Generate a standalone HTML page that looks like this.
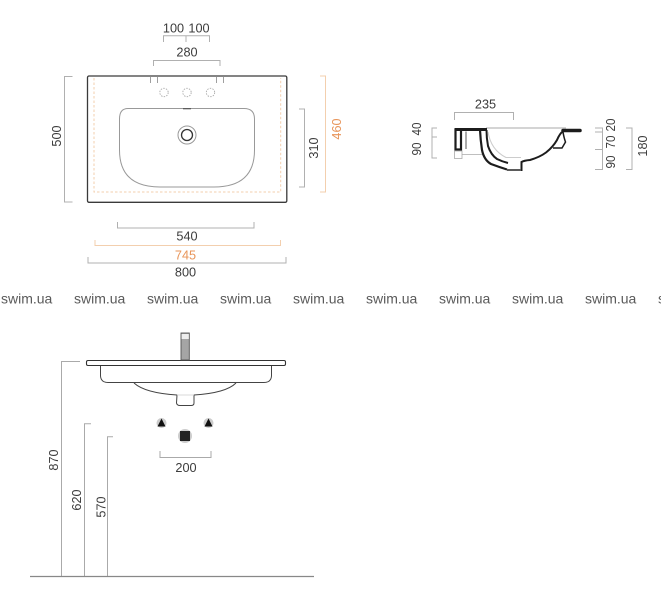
<!DOCTYPE html>
<html>
<head>
<meta charset="utf-8">
<style>
html,body{margin:0;padding:0;background:#fff;width:661px;height:600px;overflow:hidden}
svg{display:block;filter:blur(.35px)}
text{font-family:"Liberation Sans",sans-serif;font-size:12.700px;fill:#3c3c3c}
.o{fill:#e8955a}
.w{font-size:14px;fill:#5a5a5a}
</style>
</head>
<body>
<svg width="661" height="600" viewBox="0 0 661 600" xmlns="http://www.w3.org/2000/svg">
<!-- top view -->
<g fill="none">
<rect x="87.500" y="76" width="199.300" height="126.300" rx="1.500" stroke="#3a3a3a" stroke-width="1.300"/>
<path d="M94 78V192H280.700V78" stroke="#f3cfae" stroke-width="1" stroke-dasharray="2.500 2"/>
<path d="M128 108.500H244Q254.500 108.500 254.500 119V150Q254.500 187 214 187H160Q119.500 187 119.500 150V119Q119.500 108.500 128 108.500Z" stroke="#999" stroke-width="1"/>
<circle cx="187" cy="135" r="9" stroke="#999" stroke-width="1"/>
<circle cx="187" cy="135" r="5.500" stroke="#333" stroke-width="1.300"/>
<circle cx="164" cy="92.500" r="4.200" stroke="#aaa" stroke-width=".9" stroke-dasharray="1.500 1.200"/>
<circle cx="187" cy="92.500" r="4.200" stroke="#aaa" stroke-width=".9" stroke-dasharray="1.500 1.200"/>
<circle cx="210.500" cy="92.500" r="4.200" stroke="#aaa" stroke-width=".9" stroke-dasharray="1.500 1.200"/>
<path d="M150.500 76V83M157.500 76V83M216.500 76V83M223.500 76V83" stroke="#888" stroke-width=".8"/>
<path d="M183 108.700H191" stroke="#555" stroke-width="1.200"/>
<!-- dims -->
<g stroke="#b0b0b0" stroke-width="1">
<path d="M163.500 42V35.700H209.500V42M186 35.700V42"/>
<path d="M153.500 66V60.500H220V66"/>
<path d="M72.500 76.500H64.500V202H72.500"/>
<path d="M299 109H304.500V187H299"/>
<path d="M117.500 222V228H254V222"/>
<path d="M88 257V263H286V257"/>
</g>
<g stroke="#f3cfae" stroke-width="1">
<path d="M320 76H325.500V192H320"/>
<path d="M95 240V245.500H280.500V240"/>
</g>
</g>
<text x="173.500" y="32.500" text-anchor="middle">100</text>
<text x="199" y="32.500" text-anchor="middle">100</text>
<text x="187" y="56.500" text-anchor="middle">280</text>
<text transform="translate(61,136) rotate(-90)" text-anchor="middle">500</text>
<text transform="translate(318,148) rotate(-90)" text-anchor="middle">310</text>
<text class="o" transform="translate(341,129) rotate(-90)" text-anchor="middle">460</text>
<text x="187" y="240.500" text-anchor="middle">540</text>
<text class="o" x="185.500" y="259.500" text-anchor="middle">745</text>
<text x="185.500" y="276.500" text-anchor="middle">800</text>
<!-- section view -->
<g fill="none">
<path d="M486 128H566" stroke="#aaa" stroke-width="1"/>
<path d="M454.500 129.500H487" stroke="#1c1c1c" stroke-width="3"/>
<path d="M455.500 129V149.500H461V131" stroke="#1c1c1c" stroke-width="2.200"/>
<path d="M466 131.500V149" stroke="#555" stroke-width="1"/>
<rect x="454.500" y="151" width="7.500" height="7.500" stroke="#aaa" stroke-width=".8"/>
<path d="M462 154.500H482" stroke="#aaa" stroke-width=".8"/>
<path d="M480 130Q480.500 140 482 150Q484 160 491 164Q499 167 507 169.500" stroke="#1c1c1c" stroke-width="2.200"/>
<path d="M486.500 130Q486.500 138 488 146Q491 155 497 159Q502 161.500 508 163" stroke="#1c1c1c" stroke-width="2"/>
<path d="M507 170H521.500V162Q524 160.500 530 160Q540 157 546 152.500Q553 147 557 140Q560 133 563 131.500" stroke="#1c1c1c" stroke-width="2"/>
<path d="M507 170H521" stroke="#777" stroke-width="1.400"/>
<path d="M488 132Q491 150 506 157.500H521" stroke="#ccc" stroke-width="1"/>
<path d="M563 132Q564 138 565.500 142L562 148H553" stroke="#1c1c1c" stroke-width="1.500"/>
<path d="M563 130.500H580" stroke="#1c1c1c" stroke-width="3.500" stroke-linecap="round"/>
<g stroke="#b0b0b0" stroke-width="1">
<path d="M454.500 120V112.500H513.500V120"/>
<path d="M437 128H432V158H437M432 137H437"/>
<path d="M595 128H602.500V169.500H595M595 132H602.500M595 149.500H602.500"/>
<path d="M626 128H632V169.500H626"/>
</g>
</g>
<text x="485.500" y="108.500" text-anchor="middle">235</text>
<text transform="translate(421,129) rotate(-90)" text-anchor="middle" textLength="13" lengthAdjust="spacingAndGlyphs">40</text>
<text transform="translate(421,149) rotate(-90)" text-anchor="middle" textLength="13" lengthAdjust="spacingAndGlyphs">90</text>
<text transform="translate(615,125) rotate(-90)" text-anchor="middle" textLength="13" lengthAdjust="spacingAndGlyphs">20</text>
<text transform="translate(615,142) rotate(-90)" text-anchor="middle" textLength="13" lengthAdjust="spacingAndGlyphs">70</text>
<text transform="translate(615,162) rotate(-90)" text-anchor="middle" textLength="13" lengthAdjust="spacingAndGlyphs">90</text>
<text transform="translate(647,146) rotate(-90)" text-anchor="middle">180</text>
<!-- watermark -->
<text class="w" x="1" y="303.500">swim.ua</text>
<text class="w" x="74" y="303.500">swim.ua</text>
<text class="w" x="147" y="303.500">swim.ua</text>
<text class="w" x="220" y="303.500">swim.ua</text>
<text class="w" x="293" y="303.500">swim.ua</text>
<text class="w" x="366" y="303.500">swim.ua</text>
<text class="w" x="439" y="303.500">swim.ua</text>
<text class="w" x="512" y="303.500">swim.ua</text>
<text class="w" x="585" y="303.500">swim.ua</text>
<text class="w" x="658" y="303.500">swim.ua</text>
<!-- side view -->
<g fill="none">
<rect x="86.500" y="360.500" width="199" height="5" rx="1.500" stroke="#333" stroke-width="1.100"/>
<rect x="181" y="333" width="8.300" height="27" fill="#a5a5a5" stroke="#555" stroke-width=".9"/>
<rect x="181.500" y="334" width="7.300" height="5" fill="#eee"/>
<path d="M100.500 366V376Q101 382.500 108 382.500H264Q271 382.500 271.500 376V366" stroke="#444" stroke-width="1"/>
<path d="M134 383Q145 393 177 395L176.500 403Q177 405.500 180 405.500H191Q194 405.500 194 403V395Q226 393 236 383" stroke="#444" stroke-width="1"/>
<path d="M177 395H194" stroke="#ccc" stroke-width=".8"/>
<g stroke="#aaa" stroke-width="1">
<path d="M160 451V457.500H211V451"/>
<path d="M80 361.500H61.500V577"/>
<path d="M91 423.700H84.500V577"/>
<path d="M113 436.700H107.500V577"/>
</g>
<path d="M30 576.500H314" stroke="#888" stroke-width="1.200"/>
</g>
<circle cx="161.500" cy="423" r="5" fill="#ccc"/>
<path d="M161.500 418.500L165.500 426.500H157.500Z" fill="#111"/>
<circle cx="208.500" cy="423" r="5" fill="#ccc"/>
<path d="M208.500 418.500L212.500 426.500H204.500Z" fill="#111"/>
<circle cx="185" cy="436" r="7" fill="#ccc"/>
<rect x="180" y="431" width="10" height="10" fill="#222"/>
<text x="186" y="472" text-anchor="middle">200</text>
<text transform="translate(58,460) rotate(-90)" text-anchor="middle">870</text>
<text transform="translate(81,500) rotate(-90)" text-anchor="middle">620</text>
<text transform="translate(105.500,507) rotate(-90)" text-anchor="middle">570</text>
</svg>
</body>
</html>
